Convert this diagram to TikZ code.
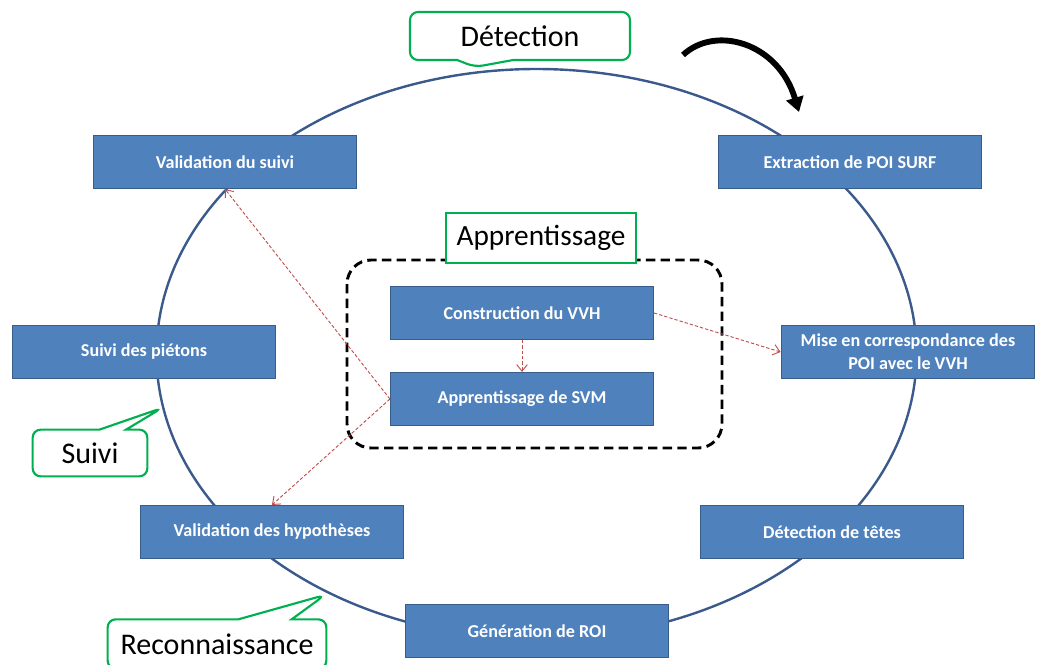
\documentclass[tikz,border=0pt]{standalone}
\usepackage{fontspec}
\setmainfont{Carlito}
\usetikzlibrary{shapes.callouts,arrows.meta,positioning}
\definecolor{boxblue}{RGB}{79,129,189}
\definecolor{boxedge}{RGB}{56,93,138}
\definecolor{ringblue}{RGB}{58,90,140}
\definecolor{notegreen}{RGB}{0,176,80}
\definecolor{linkred}{RGB}{192,80,77}

\begin{document}
\begin{tikzpicture}[x=0.75pt,y=-0.75pt,
  stepbox/.style={draw=boxedge,line width=1.1pt,fill=boxblue,text=white,
    font=\fontsize{13.6}{17}\selectfont\bfseries,minimum width=197pt,minimum height=39.5pt,align=center,inner sep=0pt},
  note/.style={rectangle callout,draw=notegreen,line width=1.6pt,fill=white,rounded corners=6pt,
    font=\fontsize{22.5}{24}\selectfont,inner sep=0pt},
  link/.style={draw=linkred,dashed,dash pattern=on 2.5pt off 1.5pt,line width=0.7pt,-{Straight Barb[length=5pt,width=8pt]}}]
\useasboundingbox (0,0) rectangle (1038,664);
% cycle
\draw[ringblue,line width=1.8pt] (536.5,354) ellipse [x radius=380, y radius=285];
\node[stepbox] (valsuivi) at (225,162) {Validation du suivi};
\node[stepbox] (extract) at (850,162) {Extraction de POI SURF};
\node[stepbox] (suivi) at (144,352) {Suivi des piétons};
\node[stepbox,minimum width=190pt] (mise) at (908,352) {Mise en correspondance des\\POI avec le VVH};
\node[stepbox] (valhyp) at (272,532) {Validation des hypothèses};
\node[stepbox] (tetes) at (832,532) {Détection de têtes};
\node[stepbox] (roi) at (537,631) {Génération de ROI};
% learning block
\draw[black,dashed,line width=2.2pt,dash pattern=on 7pt off 4pt,rounded corners=18pt] (347,260) rectangle (722,448);
\node[stepbox] (vvh) at (522,313) {Construction du VVH};
\node[stepbox] (svm) at (522,399) {Apprentissage de SVM};
\node[draw=notegreen,line width=1.6pt,fill=white,minimum width=142pt,minimum height=38pt,
  font=\fontsize{22}{24}\selectfont] (appr) at (541,238) {Apprentissage};
% phase labels
\node[note,minimum width=165pt,minimum height=36pt,callout absolute pointer={(475,67)},callout pointer width=42pt] (detect) at (520,36) {Détection};
\node[note,minimum width=86pt,minimum height=35pt,callout absolute pointer={(162,408)},callout pointer width=20pt] (suivinote) at (90,453) {Suivi};
\node[note,minimum width=164pt,minimum height=37pt,callout absolute pointer={(325,595)},callout pointer width=40pt] (recon) at (217,644) {Reconnaissance};
% links
\draw[link] (vvh) -- (svm);
\draw[link] (vvh.east) -- (mise.west);
\draw[link] (svm.west) -- (valsuivi.south);
\draw[link] (svm.west) -- (valhyp.north);
% direction
\coordinate (turnfrom) at (683,55);
\coordinate (turnto) at (799,112);
\draw[line width=4.4pt,-{Triangle[length=11pt,width=13pt]}] (turnfrom) .. controls (715,25) and (778,42) .. (turnto);
\end{tikzpicture}
\end{document}
